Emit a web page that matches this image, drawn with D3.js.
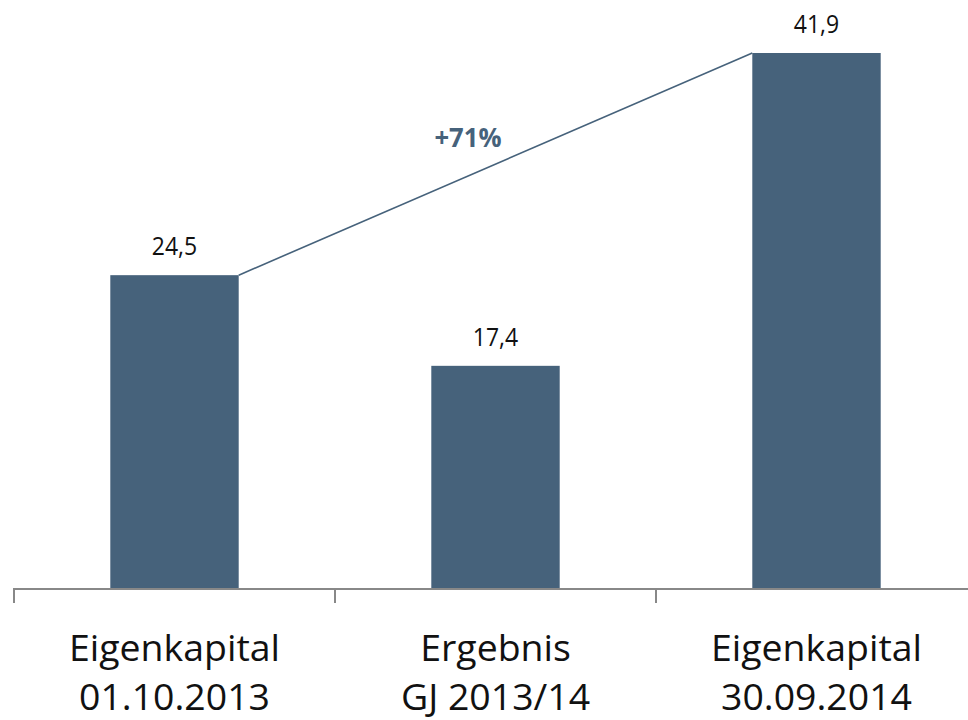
<!DOCTYPE html>
<html lang="de">
<head>
  <meta charset="UTF-8">
  <script src="https://cdn.jsdelivr.net/npm/d3@7"></script>
  <style>
    body { margin: 0; background: #fff; }
    svg text { font-family: "Open Sans", "Noto Sans", sans-serif; }
  </style>
</head>
<body>
  <div id="chart"></div>
  <script>
    // data
    const categories = ["Eigenkapital|01.10.2013", "Ergebnis|GJ 2013/14", "Eigenkapital|30.09.2014"];
    const values = [24.5, 17.4, 41.9];
    const valueLabels = ["24,5", "17,4", "41,9"];
    const growthLabel = "+71%";

    const width = 968, height = 720;
    const barColor = "#46627b";
    const baseY = 588;

    const svg = d3.select("#chart").append("svg")
      .attr("width", width)
      .attr("height", height);

    const x = d3.scaleBand()
      .domain(categories)
      .range([14, 977])
      .paddingInner(0.6)
      .paddingOuter(0.3);

    const y = d3.scaleLinear()
      .domain([0, 41.9])
      .range([baseY, 53]);

    // bars
    svg.selectAll("rect.bar")
      .data(values)
      .enter()
      .append("rect")
      .attr("class", "bar")
      .attr("x", (d, i) => x(categories[i]))
      .attr("y", d => y(d))
      .attr("width", x.bandwidth())
      .attr("height", d => baseY - y(d))
      .attr("fill", barColor);

    // value labels
    svg.selectAll("text.val")
      .data(values)
      .enter()
      .append("text")
      .attr("class", "val")
      .attr("transform", (d, i) => `translate(${x(categories[i]) + x.bandwidth() / 2},${y(d) - 20}) scale(0.92,1)`)
      .attr("text-anchor", "middle")
      .attr("font-size", 25)
      .attr("fill", "#111")
      .text((d, i) => valueLabels[i]);

    // connecting line from first to last bar
    const first = categories[0], last = categories[2];
    svg.append("line")
      .attr("x1", x(first) + x.bandwidth())
      .attr("y1", y(values[0]))
      .attr("x2", x(last))
      .attr("y2", y(values[2]))
      .attr("stroke", barColor)
      .attr("stroke-width", 1.6);

    svg.append("text")
      .attr("transform", "translate(468,147) scale(0.95,1)")
      .attr("text-anchor", "middle")
      .attr("font-size", 27)
      .attr("font-weight", "bold")
      .attr("fill", barColor)
      .text(growthLabel);

    // axis
    const axis = svg.append("g");
    axis.append("line")
      .attr("x1", 14).attr("x2", width)
      .attr("y1", baseY + 1).attr("y2", baseY + 1)
      .attr("stroke", "#888").attr("stroke-width", 2);

    const tickXs = categories.map(c => x(c) - x.step() * x.paddingInner() / 2);
    tickXs.push(x(last) + x.bandwidth() + x.step() * x.paddingInner() / 2);
    axis.selectAll("line.tick")
      .data(tickXs)
      .enter()
      .append("line")
      .attr("class", "tick")
      .attr("x1", d => d).attr("x2", d => d)
      .attr("y1", baseY).attr("y2", baseY + 15)
      .attr("stroke", "#888").attr("stroke-width", 2);

    // category labels (two lines)
    svg.selectAll("g.cat")
      .data(categories)
      .enter()
      .append("g")
      .attr("class", "cat")
      .attr("transform", d => `translate(${x(d) + x.bandwidth() / 2},0) scale(1.04,1)`)
      .each(function (d) {
        const parts = d.split("|");
        d3.select(this).selectAll("text")
          .data(parts)
          .enter()
          .append("text")
          .attr("x", 0)
          .attr("y", (p, j) => 661 + j * 49)
          .attr("text-anchor", "middle")
          .attr("font-size", 36)
          .attr("fill", "#111")
          .text(p => p);
      });
  </script>
</body>
</html>
